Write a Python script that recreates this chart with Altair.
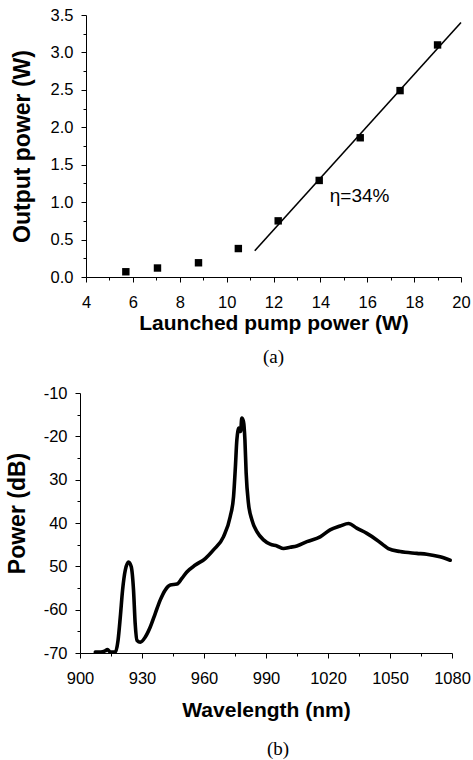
import altair as alt
import pandas as pd

# ---------- (a) output vs launched pump power ----------
pump_w = [5.7, 7.05, 8.8, 10.5, 12.2, 13.95, 15.7, 17.4, 19.0]
output_w = [0.07, 0.12, 0.19, 0.38, 0.75, 1.29, 1.86, 2.49, 3.10]
fit_x = [11.2, 20.0]
fit_y = [0.35, 3.40]
eta_label = ["η=34%"]
eta_x = [14.4]
eta_y = [1.08]

# ---------- (b) spectrum ----------
wavelength_nm = [907.4, 910.0, 912.2, 913.3, 914.7, 917.1, 918.4, 919.5, 920.6, 921.9,
                 923.5, 924.8, 925.9, 926.7, 927.6, 929.2, 931.6, 934.0, 936.4, 938.8,
                 941.2, 943.7, 946.9, 949.3, 951.7, 955.8, 960.6, 964.6, 969.4, 972.7,
                 974.3, 975.2, 975.9, 976.9, 977.7, 978.3, 979.1, 979.8, 980.4, 981.5,
                 983.2, 985.6, 988.8, 992.0, 995.3, 998.5, 1001.7, 1004.9, 1009.8, 1016.2,
                 1021.0, 1025.9, 1029.9, 1033.9, 1038.8, 1043.6, 1049.2, 1054.9, 1063.0,
                 1067.8, 1074.2, 1079.1]
power_db = [-69.8, -69.8, -69.5, -69.2, -69.8, -69.8, -67.1, -61.7, -55.5, -50.9,
            -49.0, -50.1, -55.5, -63.2, -67.1, -67.5, -66.3, -64.0, -60.9, -57.8,
            -55.5, -54.3, -54.1, -52.8, -51.3, -49.7, -48.2, -46.2, -43.2, -38.5,
            -33.9, -27.0, -20.8, -18.1, -18.9, -15.8, -16.6, -20.8, -28.5, -35.4,
            -39.3, -42.0, -43.9, -44.9, -45.3, -45.9, -45.6, -45.3, -44.3, -43.2,
            -41.6, -40.7, -40.1, -41.2, -42.4, -43.9, -45.9, -46.6, -47.0,
            -47.2, -47.8, -48.6]

# tick positions
pump_major = [4, 6, 8, 10, 12, 14, 16, 18, 20]
pump_minor = [5, 7, 9, 11, 13, 15, 17, 19]
out_major = [0, 0.5, 1.0, 1.5, 2.0, 2.5, 3.0, 3.5]
out_minor = [0.25, 0.75, 1.25, 1.75, 2.25, 2.75, 3.25]
wl_major = [900, 930, 960, 990, 1020, 1050, 1080]
wl_minor = [915, 945, 975, 1005, 1035, 1065]
db_major = [-70, -60, -50, -40, -30, -20, -10]
db_minor = [-65, -55, -45, -35, -25, -15]

SANS = "Liberation Sans"
LABEL_SIZE = 16.5


def major_axis(values, title, title_size, **kw):
    return alt.Axis(
        values=values,
        tickSize=5,
        labelOverlap=False,
        labelFlush=False,
        grid=False,
        domainColor="black",
        tickColor="black",
        domainWidth=1,
        tickWidth=1,
        labelColor="black",
        labelFont=SANS,
        labelFontSize=LABEL_SIZE,
        title=title,
        titleFont=SANS,
        titleFontSize=title_size,
        titleFontWeight="bold",
        titleColor="black",
        **kw,
    )


def minor_axis(values, **kw):
    return alt.Axis(
        values=values, tickSize=3, tickColor="black", tickWidth=1,
        labels=False, domain=False, grid=False, title=None, **kw,
    )


pts = pd.DataFrame({"pump": pump_w, "out": output_w})
fit = pd.DataFrame({"pump": fit_x, "out": fit_y})
eta = pd.DataFrame({"pump": eta_x, "out": eta_y, "txt": eta_label})

xs = alt.Scale(domain=[4, 20], nice=False, zero=False)
ys = alt.Scale(domain=[0, 3.5], nice=False)

top_pts = alt.Chart(pts).mark_square(size=55, color="black", opacity=1).encode(
    x=alt.X("pump:Q", scale=xs,
            axis=major_axis(pump_major, "Launched pump power (W)", 21, orient="bottom",
                            format="d", labelPadding=12, titlePadding=2)),
    y=alt.Y("out:Q", scale=ys,
            axis=major_axis(out_major, "Output power (W)", 23, orient="left",
                            format=".1f", labelPadding=8, titlePadding=16)),
)
top_minor = alt.Chart(pts).mark_point(opacity=0).encode(
    x=alt.X("pump:Q", scale=xs, axis=minor_axis(pump_minor, orient="bottom")),
    y=alt.Y("out:Q", scale=ys, axis=minor_axis(out_minor, orient="left")),
)
top_fit = alt.Chart(fit).mark_line(color="black", strokeWidth=1.6).encode(
    x=alt.X("pump:Q", scale=xs, axis=None),
    y=alt.Y("out:Q", scale=ys, axis=None),
)
top_txt = alt.Chart(eta).mark_text(
    align="left", baseline="middle", font=SANS, fontSize=19, color="black"
).encode(
    x=alt.X("pump:Q", scale=xs, axis=None),
    y=alt.Y("out:Q", scale=ys, axis=None),
    text="txt:N",
)

top = alt.layer(top_pts, top_minor, top_fit, top_txt).resolve_axis(
    x="independent", y="independent"
).properties(
    width=375,
    height=262,
    title=alt.TitleParams(
        "(a)", orient="bottom", font="Liberation Serif", fontSize=19,
        fontWeight="normal", color="black", offset=14, anchor="middle",
    ),
)

spec = pd.DataFrame({"wl": wavelength_nm, "db": power_db})
bxs = alt.Scale(domain=[900, 1080], nice=False, zero=False, range=[-6, 366])
bys = alt.Scale(domain=[-70, -10], nice=False, zero=False)

db_label = ("(datum.value >= -50 && datum.value <= -30) ? ('' + abs(datum.value))"
            " : ('-' + abs(datum.value))")

bottom_line = alt.Chart(spec).mark_line(
    color="black", strokeWidth=3.6, strokeJoin="round", strokeCap="round",
    interpolate="monotone",
).encode(
    x=alt.X("wl:Q", scale=bxs,
            axis=major_axis(wl_major, "Wavelength (nm)", 21, orient="bottom",
                            format="d", labelPadding=12, titlePadding=13)),
    y=alt.Y("db:Q", scale=bys,
            axis=major_axis(db_major, "Power (dB)", 23, orient="left",
                            labelExpr=db_label, labelPadding=8, titlePadding=14,
                            offset=6, titleY=120)),
)
bottom_minor = alt.Chart(spec).mark_point(opacity=0).encode(
    x=alt.X("wl:Q", scale=bxs, axis=minor_axis(wl_minor, orient="bottom")),
    y=alt.Y("db:Q", scale=bys, axis=minor_axis(db_minor, orient="left", offset=6)),
)

bottom = alt.layer(bottom_line, bottom_minor).resolve_axis(
    x="independent", y="independent"
).properties(
    width=366,
    height=260,
    title=alt.TitleParams(
        "(b)", orient="bottom", font="Liberation Serif", fontSize=19,
        fontWeight="normal", color="black", offset=19, anchor="middle", dx=9,
    ),
)

chart = alt.vconcat(top, bottom, spacing=18).properties(
    padding={"left": 6, "top": 7, "right": 0, "bottom": 0},
    background="white",
).configure_view(stroke=None)

chart.save("out.html", embed_options={"renderer": "svg", "actions": False})
